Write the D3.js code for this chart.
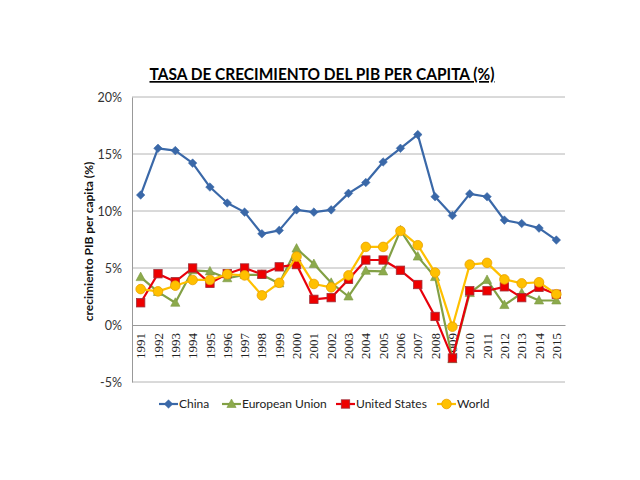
<!DOCTYPE html>
<html><head><meta charset="utf-8">
<script src="https://cdn.jsdelivr.net/npm/d3@7"></script>
<style>body{margin:0;background:#fff}</style>
</head><body>
<svg id="c" width="640" height="480"></svg>
<script>
const years = [1991,1992,1993,1994,1995,1996,1997,1998,1999,2000,2001,2002,2003,2004,2005,2006,2007,2008,2009,2010,2011,2012,2013,2014,2015];
const china = [11.4,15.5,15.3,14.2,12.1,10.7,9.9,8.0,8.3,10.1,9.9,10.1,11.55,12.5,14.3,15.5,16.7,11.25,9.6,11.5,11.25,9.2,8.9,8.5,7.45];
const eu    = [4.2,2.9,1.95,4.8,4.7,4.1,4.4,4.4,3.65,6.7,5.35,3.7,2.5,4.75,4.7,8.3,6.0,4.2,-3.0,2.8,3.95,1.75,2.8,2.15,2.15];
const us    = [1.95,4.5,3.8,5.0,3.65,4.5,5.0,4.45,5.1,5.3,2.25,2.4,4.0,5.7,5.7,4.8,3.55,0.75,-2.9,3.0,3.0,3.35,2.4,3.3,2.7];
const world = [3.15,2.95,3.45,3.95,3.95,4.45,4.35,2.6,3.7,6.0,3.6,3.3,4.35,6.85,6.85,8.25,7.0,4.6,-0.15,5.3,5.45,4.0,3.65,3.75,2.7];
const seriesNames = ["China","European Union","United States","World"];
const yTicks = [-5,0,5,10,15,20];
const title = "TASA DE CRECIMIENTO DEL PIB PER CAPITA (%)";
const yTitle = "crecimiento PIB per capita (%)";

const series = [
  {name: seriesNames[0], values: china, color:"#3A68A8", fill:"#3A68A8", stroke:"#3A68A8", marker:"diamond"},
  {name: seriesNames[1], values: eu, color:"#82A045", fill:"#8CAA4C", stroke:"#7E9A42", marker:"triangle"},
  {name: seriesNames[2], values: us, color:"#E8000B", fill:"#EE0000", stroke:"#A0303A", marker:"square"},
  {name: seriesNames[3], values: world, color:"#FFC000", fill:"#FFC000", stroke:"#E8A000", marker:"circle"}
];

const svg = d3.select("#c");
const L=132, R=565, T=97, B=382;
const x = d3.scaleBand().domain(years).range([L,R]);
const y = d3.scaleLinear().domain([-5,20]).range([B,T]);
const cx = d => x(d)+x.bandwidth()/2;

// title
svg.append("text").attr("x",322).attr("y",80).attr("text-anchor","middle")
  .attr("font-family","Lato, 'Open Sans', sans-serif").attr("font-weight","bold").attr("font-size",17)
  .attr("textLength",345).attr("lengthAdjust","spacingAndGlyphs")
  .attr("text-decoration","underline").attr("fill","#000").text(title);

// gridlines
svg.append("g").selectAll("line").data(yTicks.filter(v=>v>0)).join("line")
  .attr("x1",L).attr("x2",R).attr("y1",d=>y(d)).attr("y2",d=>y(d))
  .attr("stroke","#B4B4B4").attr("stroke-width",1);
// bottom border at -5
svg.append("line").attr("x1",L).attr("x2",R).attr("y1",y(-5)).attr("y2",y(-5)).attr("stroke","#B4B4B4");

// y axis
const yAxis = d3.axisLeft(y).tickValues(yTicks).tickFormat(d=>d+"%").tickSize(0).tickPadding(10);
const gy = svg.append("g").attr("transform",`translate(${L},0)`).call(yAxis);
gy.select(".domain").attr("stroke","#999");
gy.selectAll("text").attr("font-family","Lato, 'Open Sans', sans-serif").attr("font-size",12.5).attr("fill","#333");

// x axis at 0
const xAxis = d3.axisBottom(x).tickSize(0).tickPadding(0);
const gx = svg.append("g").attr("transform",`translate(0,${y(0)})`).call(xAxis);
gx.select(".domain").attr("stroke","#999");
gx.selectAll("text").attr("font-family","'Liberation Serif', 'Times New Roman', serif").attr("font-size",13).attr("fill","#222")
  .attr("text-anchor","end").attr("dy","0.35em").attr("y",0).attr("x",0)
  .attr("transform","translate(0,8) rotate(-90)");

// y title
svg.append("text").attr("transform",`translate(93,${(T+B)/2+2}) rotate(-90)`).attr("text-anchor","middle")
  .attr("font-family","Lato, 'Open Sans', sans-serif").attr("font-weight","bold").attr("font-size",12)
  .attr("fill","#111").text(yTitle);

function drawMarker(g, type, fill, stroke){
  if(type==="diamond") g.append("path").attr("d","M0,-4.3L4.3,0L0,4.3L-4.3,0Z").attr("fill",fill).attr("stroke",stroke).attr("stroke-width",0.5);
  if(type==="triangle") g.append("path").attr("d","M0,-5L4.6,3.5L-4.6,3.5Z").attr("fill",fill).attr("stroke",stroke).attr("stroke-width",0.6);
  if(type==="square") g.append("rect").attr("x",-4.2).attr("y",-4.2).attr("width",8.4).attr("height",8.4).attr("fill",fill).attr("stroke",stroke).attr("stroke-width",0.8);
  if(type==="circle") g.append("circle").attr("r",4.8).attr("fill",fill).attr("stroke",stroke).attr("stroke-width",0.8);
}

const line = d3.line().x((d,i)=>cx(years[i])).y(d=>y(d));
series.forEach(s=>{
  const g = svg.append("g");
  g.append("path").attr("d",line(s.values)).attr("fill","none").attr("stroke",s.color).attr("stroke-width",2.2).attr("stroke-linejoin","round");
  s.values.forEach((v,i)=>{
    const mg = g.append("g").attr("transform",`translate(${cx(years[i])},${y(v)})`);
    drawMarker(mg, s.marker, s.fill, s.stroke);
  });
});

// legend
const legendX = [159,222,336,437];
series.forEach((s,i)=>{
  const g = svg.append("g").attr("transform",`translate(${legendX[i]},404)`);
  g.append("line").attr("x1",0).attr("x2",19).attr("stroke",s.color).attr("stroke-width",2.2);
  const mg = g.append("g").attr("transform","translate(9.5,0)");
  drawMarker(mg, s.marker, s.fill, s.stroke);
  g.append("text").attr("x",20).attr("y",0).attr("dy","0.35em")
    .attr("font-family","Lato, 'Open Sans', sans-serif").attr("font-size",12).attr("fill","#222").text(s.name);
});
</script>
</body></html>
